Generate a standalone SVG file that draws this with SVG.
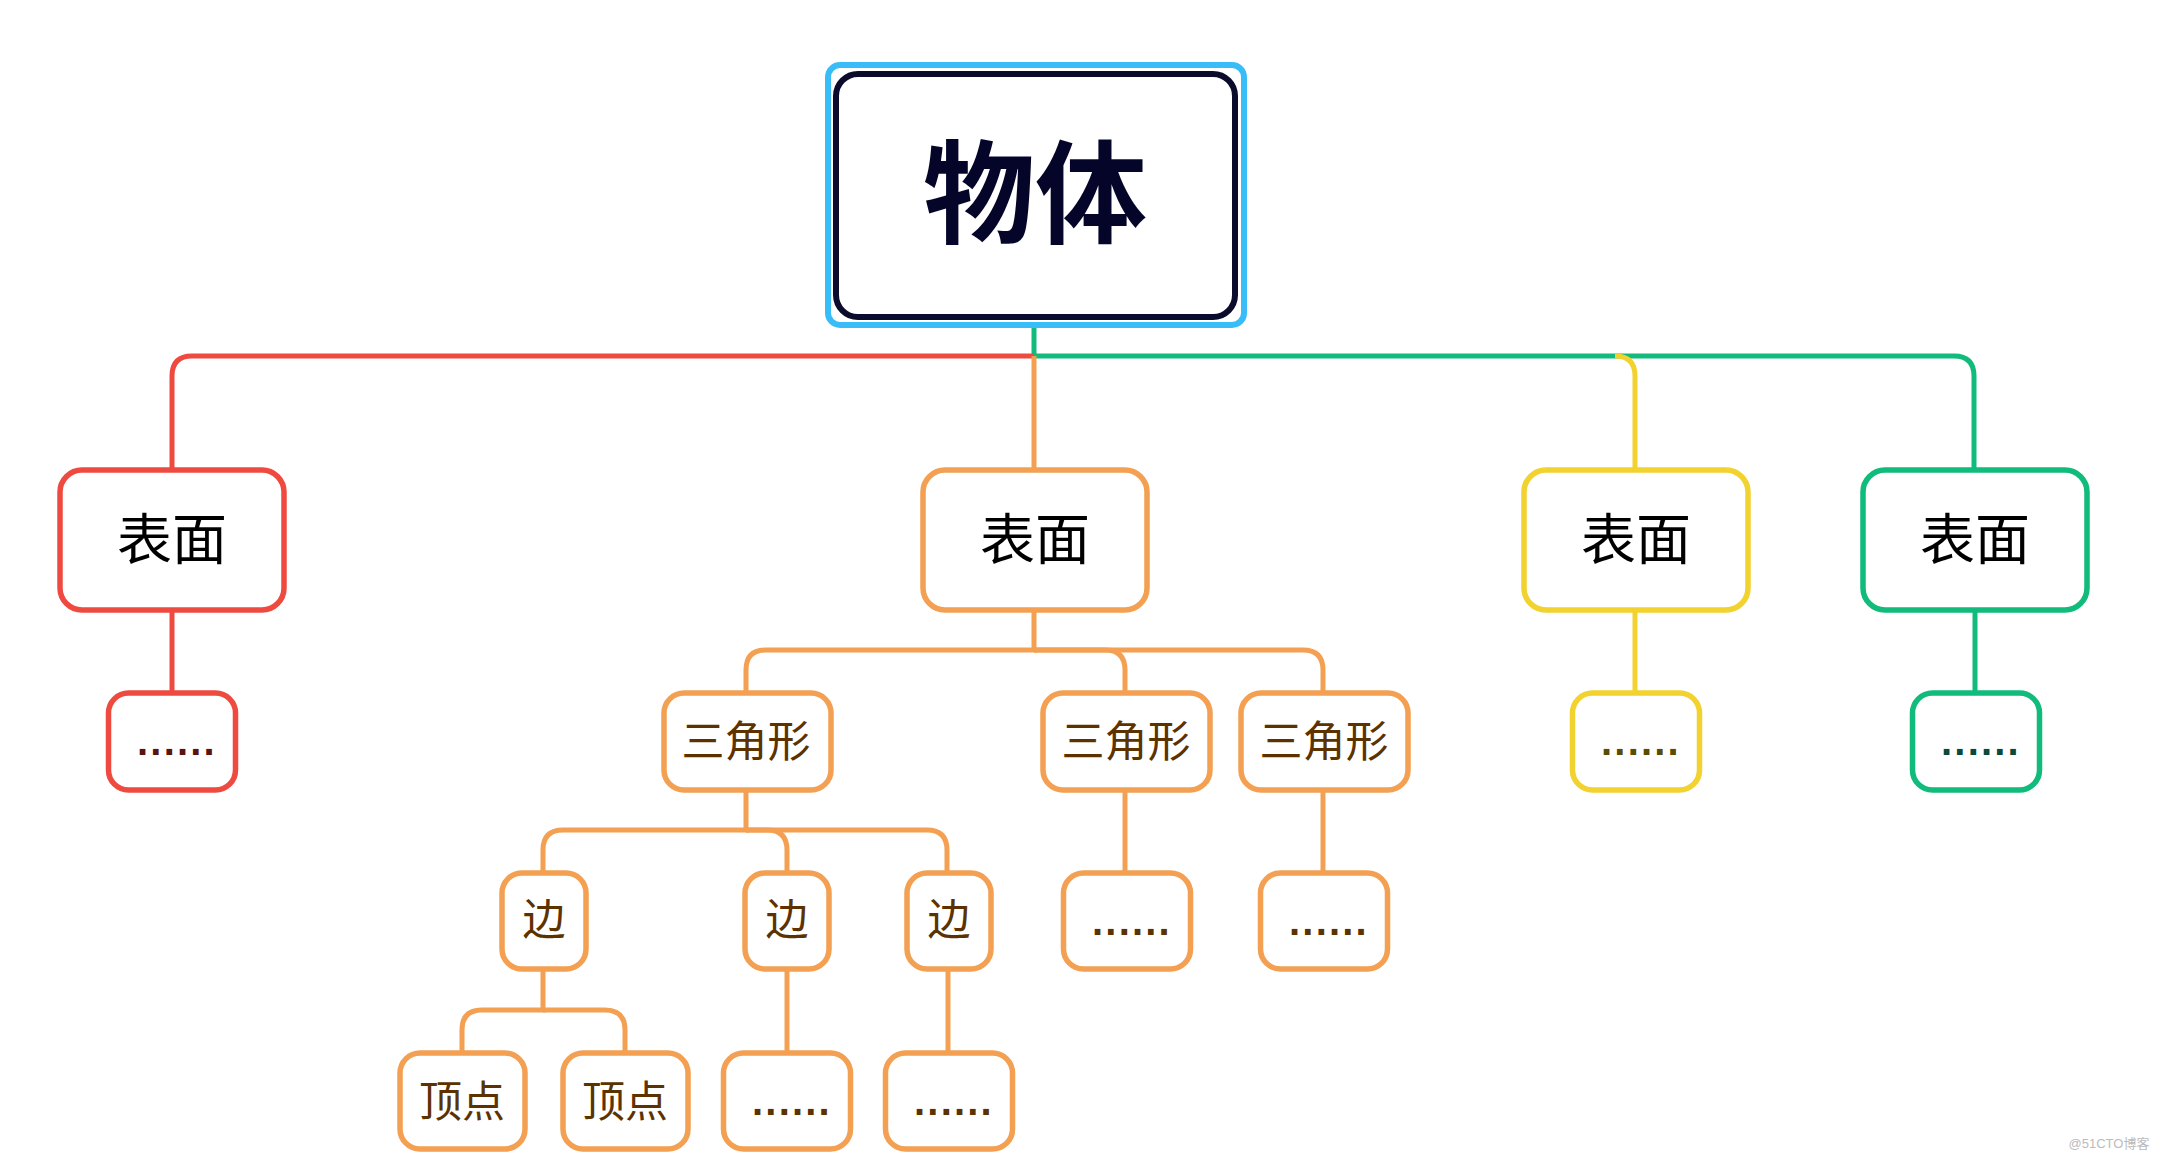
<svg xmlns="http://www.w3.org/2000/svg" width="2165" height="1162" viewBox="0 0 2165 1162">
<style>
.n{fill:#fff;stroke-width:5.5}
.red{stroke:#ef4a40}.org{stroke:#f3a052}.yel{stroke:#f2d22e}.grn{stroke:#10bb7c}
.c{fill:none;stroke-width:5}
.t{font-family:"Noto Sans CJK SC","Noto Sans CJK JP",sans-serif;text-anchor:middle}
.l1{font-size:55px;fill:#000}
.l2{font-size:43px;fill:#5c3300}
.d{font-family:"Liberation Sans",Arial,sans-serif;font-weight:bold;font-size:40px;letter-spacing:2.2px;text-anchor:middle}
</style>
<rect width="2165" height="1162" fill="#fff"/>
<g id="connectors">
  <path class="c grn" d="M1034 328 V356 H1954 Q1974 356 1974 376 V470"/>
  <path class="c yel" d="M1615 356 Q1635 356 1635 376 V470"/>
  <path class="c red" d="M1034 356 H192 Q172 356 172 376 V470"/>
  <path class="c org" d="M1034 356 V470"/>
  <path class="c red" d="M172 611 V692"/>
  <path class="c yel" d="M1635 611 V692"/>
  <path class="c grn" d="M1975 611 V692"/>
  <path class="c org" d="M1034 611 V650 H766 Q746 650 746 670 V692"/>
  <path class="c org" d="M1034 650 H1105 Q1125 650 1125 670 V692"/>
  <path class="c org" d="M1034 650 H1303 Q1323 650 1323 670 V692"/>
  <path class="c org" d="M746 791 V830 H563 Q543 830 543 850 V872"/>
  <path class="c org" d="M746 830 H767 Q787 830 787 850 V872"/>
  <path class="c org" d="M746 830 H927 Q947 830 947 850 V872"/>
  <path class="c org" d="M1125 791 V872"/>
  <path class="c org" d="M1323 791 V872"/>
  <path class="c org" d="M543 970 V1010 H482 Q462 1010 462 1030 V1052"/>
  <path class="c org" d="M543 1010 H605 Q625 1010 625 1030 V1052"/>
  <path class="c org" d="M787 970 V1052"/>
  <path class="c org" d="M948 970 V1052"/>
</g>
<g id="root">
  <rect x="828" y="65" width="416" height="260" rx="12" fill="#fff" stroke="#38bdf8" stroke-width="6"/>
  <rect x="836" y="74" width="399" height="243" rx="22" fill="#fff" stroke="#0b0b2b" stroke-width="6"/>
  <text class="t" x="1035" y="235" font-size="112" font-weight="bold" fill="#05052a">物体</text>
</g>
<g id="surface-red">
  <rect class="n red" x="60" y="470" width="224" height="140" rx="22"/>
  <text class="t l1" x="172" y="559">表面</text>
</g>
<g id="dots-red">
  <rect class="n red" x="108.5" y="693" width="127" height="97" rx="20"/>
  <text class="d" x="177" y="755" fill="#5a1410">......</text>
</g>
<g id="surface-orange">
  <rect class="n org" x="923" y="470" width="224" height="140" rx="22"/>
  <text class="t l1" x="1035" y="559">表面</text>
</g>
<g id="surface-yellow">
  <rect class="n yel" x="1524" y="470" width="224" height="140" rx="22"/>
  <text class="t l1" x="1636" y="559">表面</text>
</g>
<g id="dots-yellow">
  <rect class="n yel" x="1572.5" y="693" width="127" height="97" rx="20"/>
  <text class="d" x="1641" y="755" fill="#5a4c00">......</text>
</g>
<g id="surface-green">
  <rect class="n grn" x="1863" y="470" width="224" height="140" rx="22"/>
  <text class="t l1" x="1975" y="559">表面</text>
</g>
<g id="dots-green">
  <rect class="n grn" x="1912.5" y="693" width="127" height="97" rx="20"/>
  <text class="d" x="1981" y="755" fill="#0a4a3c">......</text>
</g>
<g id="tri-1">
  <rect class="n org" x="664" y="693" width="167" height="97" rx="20"/>
  <text class="t l2" x="746" y="757">三角形</text>
</g>
<g id="tri-2">
  <rect class="n org" x="1043" y="693" width="167" height="97" rx="20"/>
  <text class="t l2" x="1126" y="757">三角形</text>
</g>
<g id="tri-3">
  <rect class="n org" x="1241" y="693" width="167" height="97" rx="20"/>
  <text class="t l2" x="1324" y="757">三角形</text>
</g>
<g id="dots-tri2">
  <rect class="n org" x="1063.5" y="873" width="127" height="96" rx="20"/>
  <text class="d" x="1132" y="935" fill="#5c3300">......</text>
</g>
<g id="dots-tri3">
  <rect class="n org" x="1260.5" y="873" width="127" height="96" rx="20"/>
  <text class="d" x="1329" y="935" fill="#5c3300">......</text>
</g>
<g id="edge-1">
  <rect class="n org" x="502" y="873" width="84" height="96" rx="20"/>
  <text class="t l2" x="544" y="935">边</text>
</g>
<g id="edge-2">
  <rect class="n org" x="745" y="873" width="84" height="96" rx="20"/>
  <text class="t l2" x="787" y="935">边</text>
</g>
<g id="edge-3">
  <rect class="n org" x="907" y="873" width="84" height="96" rx="20"/>
  <text class="t l2" x="949" y="935">边</text>
</g>
<g id="vertex-1">
  <rect class="n org" x="400" y="1053" width="125" height="96" rx="20"/>
  <text class="t l2" x="462" y="1117">顶点</text>
</g>
<g id="vertex-2">
  <rect class="n org" x="563" y="1053" width="125" height="96" rx="20"/>
  <text class="t l2" x="625" y="1117">顶点</text>
</g>
<g id="dots-edge2">
  <rect class="n org" x="723.5" y="1053" width="127" height="96" rx="20"/>
  <text class="d" x="792" y="1115" fill="#5c3300">......</text>
</g>
<g id="dots-edge3">
  <rect class="n org" x="885.5" y="1053" width="127" height="96" rx="20"/>
  <text class="d" x="954" y="1115" fill="#5c3300">......</text>
</g>
<text x="2109" y="1148" font-family="Liberation Sans,'Noto Sans CJK SC',sans-serif" font-size="13" fill="#bbbbbb" text-anchor="middle">@51CTO博客</text>
</svg>
